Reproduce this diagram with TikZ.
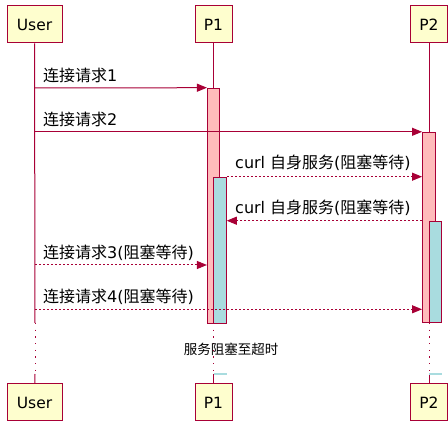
\documentclass[tikz,border=0pt]{standalone}
\usepackage{fontspec}
\setmainfont{DejaVu Sans}
\newfontfamily\cjk{Noto Sans CJK SC}
\usetikzlibrary{arrows.meta}
\definecolor{umlred}{HTML}{A80036}
\definecolor{umlbox}{HTML}{FEFECE}
\definecolor{actpink}{HTML}{FFBBBB}
\definecolor{actblue}{HTML}{A9DCDF}

\begin{document}
\begin{tikzpicture}[
    x=1pt, y=-1pt,
    party/.style={draw=umlred, fill=umlbox, line width=1pt, minimum height=37pt, inner sep=0pt, font=\fontsize{15.5}{18}\selectfont},
    life/.style={draw=umlred, line width=1pt},
    wait/.style={draw=umlred, line width=1pt, dash pattern=on 1.2pt off 5.5pt},
    bar/.style={draw=umlred, line width=1pt, minimum width=12.5pt, inner sep=0pt, anchor=north},
    msg/.style={draw=umlred, line width=1pt, -{Triangle[length=10pt,width=8pt]}},
    dmsg/.style={msg, dash pattern=on 2pt off 2pt},
    lbl/.style={anchor=west, inner sep=0pt, font=\fontsize{16}{19}\selectfont},
]
\useasboundingbox (0,0) rectangle (448,422);

% Participants
\node[party, minimum width=55pt] (usertop) at (34.5,24.5) {User};
\node[party, minimum width=37pt] (p1top) at (213.5,24.5) {P1};
\node[party, minimum width=37pt] (p2top) at (429,24.5) {P2};
\node[party, minimum width=55pt] (userbot) at (34.5,402.5) {User};
\node[party, minimum width=37pt] (p1bot) at (213.5,402.5) {P1};
\node[party, minimum width=37pt] (p2bot) at (429,402.5) {P2};

% Lifelines
\coordinate (userstop) at (35,323);
\coordinate (userwake) at (35,374);
\coordinate (p1stop) at (213.5,323);
\coordinate (p1wake) at (213.5,374);
\coordinate (p2stop) at (429,323);
\coordinate (p2wake) at (429,374);
\draw[life] (usertop) -- (userstop);
\draw[wait] (userstop) -- (userwake);
\draw[life] (userwake) -- (userbot);
\draw[life] (p1top) -- (p1stop);
\draw[wait] (p1stop) -- (p1wake);
\draw[life] (p1wake) -- (p1bot);
\draw[life] (p2top) -- (p2stop);
\draw[wait] (p2stop) -- (p2wake);
\draw[life] (p2wake) -- (p2bot);

% Activations
\node[bar, fill=actpink, minimum height=235pt] (p1act) at (213.7,87.7) {};
\node[bar, fill=actpink, minimum height=190.5pt] (p2act) at (428.8,131.8) {};
\node[bar, fill=actblue, minimum height=146pt] (p1blue) at (220,176.7) {};
\node[bar, fill=actblue, minimum height=101.7pt] (p2blue) at (435.6,220.7) {};
\draw[actblue, line width=2pt] (p1wake) -- ++(13,0);
\draw[actblue, line width=2pt] (p2wake) -- ++(13,0);

% Messages
\coordinate (user1) at (35,88);
\coordinate (user2) at (35,131.8);
\coordinate (user3) at (35,265);
\coordinate (user4) at (35,309.3);
\draw[msg] (user1) -- (p1act.north west);
\draw[msg] (user2) -- (p2act.north west);
\draw[dmsg] (p1blue.north east) -- (p1blue.north east -| p2act.west);
\draw[dmsg] (p2blue.north west -| p2act.west) -- (p2blue.north west -| p1blue.east);
\draw[dmsg] (user3) -- (user3 -| p1act.west);
\draw[dmsg] (user4) -- (user4 -| p2act.west);

% Labels
\node[lbl] (lbl1) at (43,75) {{\cjk 连接请求}1};
\node[lbl] (lbl2) at (43,119) {{\cjk 连接请求}2};
\node[lbl] (lbl3) at (235,162.5) {curl {\cjk 自身服务}({\cjk 阻塞等待})};
\node[lbl] (lbl4) at (235,208) {curl {\cjk 自身服务}({\cjk 阻塞等待})};
\node[lbl] (lbl5) at (43,252.5) {{\cjk 连接请求}3({\cjk 阻塞等待})};
\node[lbl] (lbl6) at (43,296.5) {{\cjk 连接请求}4({\cjk 阻塞等待})};
\node[inner sep=0pt, font=\cjk\fontsize{13.5}{16}\selectfont] (delay) at (231,349.5) {服务阻塞至超时};

\end{tikzpicture}
\end{document}
